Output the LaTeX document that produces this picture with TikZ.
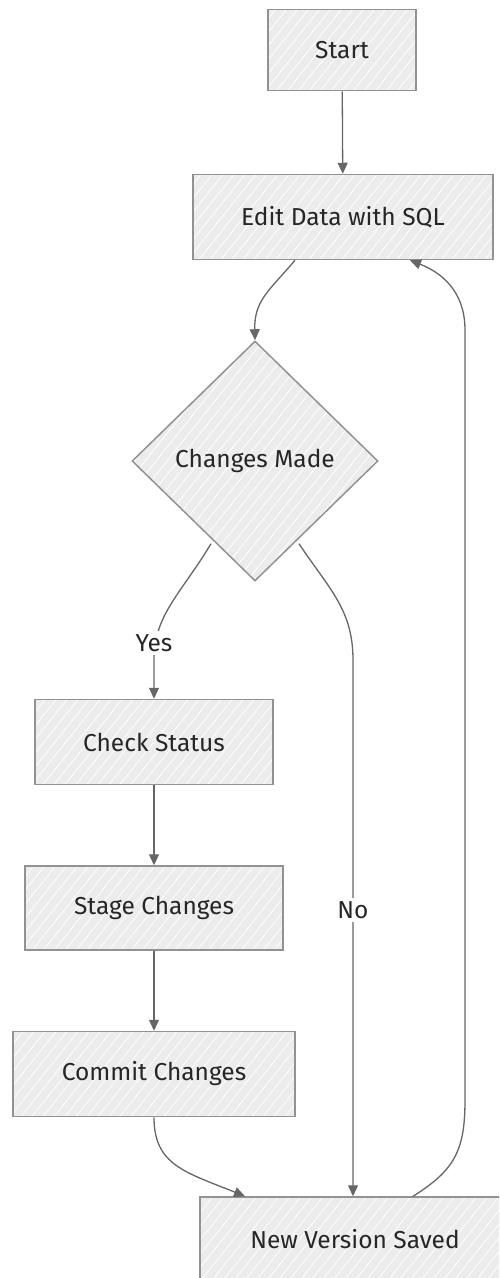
\documentclass[tikz,border=0pt]{standalone}
\usepackage{fontspec}
\setmainfont{Fira Sans}
\usetikzlibrary{shapes.geometric,arrows.meta,calc}

\definecolor{boxfill}{HTML}{ECECEC}
\definecolor{boxline}{HTML}{929292}
\definecolor{edgecol}{HTML}{666666}

\tikzset{
  hatched/.style={
    path picture={
      \coordinate (pc) at (path picture bounding box.center);
      \foreach \i in {-40,...,40}
        \draw[white, line width=0.8pt] ($(pc)+(\i*11-120,150)$) -- ++(240,-300);
    }
  },
  txt/.style={text=black!85, font=\fontsize{24.5}{28}\selectfont},
  stepbox/.style={draw=boxline, line width=1.5pt, fill=boxfill, hatched,
    rectangle, inner sep=0pt, txt},
  decision/.style={draw=boxline, line width=1.5pt, fill=boxfill, hatched,
    diamond, aspect=1.03, inner sep=0pt, minimum width=246pt, minimum height=240pt, txt},
  edge/.style={draw=edgecol, line width=1.3pt,
    -{Triangle[length=11pt,width=10pt]}},
  elabel/.style={fill=white, inner sep=3pt, txt}
}

\begin{document}
\begin{tikzpicture}[x=1pt,y=-1pt]
  \useasboundingbox (0,0) rectangle (499,1278);
  \clip (0,0) rectangle (499,1278);
  \fill[white] (0,0) rectangle (499,1278);

  % process boxes and the decision
  \node[stepbox, minimum width=148pt, minimum height=81pt] (start) at (342,50) {Start};
  \node[stepbox, minimum width=300pt, minimum height=85pt] (edit) at (343,217) {Edit Data with SQL};
  \node[decision] (changes) at (255,461) {Changes Made};
  \node[stepbox, minimum width=238pt, minimum height=85pt] (check) at (154,742) {Check Status};
  \node[stepbox, minimum width=258pt, minimum height=84pt] (stage) at (154,908) {Stage Changes};
  \node[stepbox, minimum width=282pt, minimum height=85pt] (commit) at (154,1074) {Commit Changes};
  \node[stepbox, minimum width=310pt, minimum height=84pt] (saved) at (355,1239) {New Version Saved};

  % connectors
  \draw[edge] (start) -- (edit);
  \draw[edge] ([xshift=-48pt]edit.south) .. controls (270,290) and (254,300) .. (changes.north);
  \draw[edge] ([shift={(-44pt,38pt)}]changes.south) .. controls (180,595) and (154,615) .. (154,660) -- (check.north);
  \draw[edge] (check) -- (stage);
  \draw[edge] (stage) -- (commit);
  \draw[edge] ([shift={(44pt,38pt)}]changes.south) .. controls (330,590) and (353,610) .. (353,660) -- (saved.north -| 353,0);
  \draw[edge] (commit.south) .. controls (154,1165) and (185,1172) .. ([xshift=-110pt]saved.north);
  \draw[edge] ([xshift=58pt]saved.north) .. controls (455,1170) and (465,1150) .. (465,1100)
     -- (465,330) .. controls (465,290) and (440,272) .. ([xshift=67pt]edit.south);

  % branch labels
  \node[elabel] (yes) at (154,643) {Yes};
  \node[elabel] (no) at (353,910) {No};
\end{tikzpicture}
\end{document}
